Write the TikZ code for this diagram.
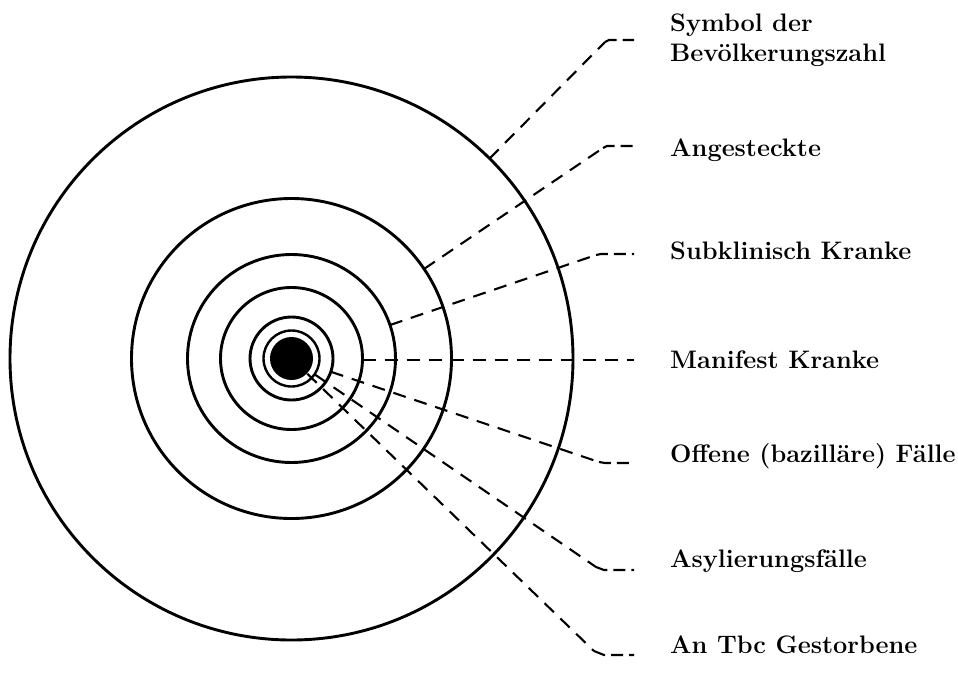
\documentclass[tikz,border=0pt]{standalone}
\usepackage{fontspec}
\usetikzlibrary{calc}
\begin{document}
\begin{tikzpicture}[x=1pt,y=-1pt,
  ring/.style={line width=2.9pt},
  thinring/.style={line width=2.4pt},
  leader/.style={line width=2.1pt, dash pattern=on 13pt off 9pt},
  tail/.style={line width=2.1pt, dash pattern=on 12pt off 6pt},
  lbl/.style={anchor=base west, inner sep=0pt, font=\fontsize{25.3}{29.5}\selectfont\bfseries, align=left}]
\useasboundingbox (0,0) rectangle (958,696);
\coordinate (c) at (291.5,358.5);
% rings
\draw[ring] (c) circle[radius=281.5];
\draw[ring] (c) circle[radius=160];
\draw[ring] (c) circle[radius=104];
\draw[ring] (c) circle[radius=71];
\draw[ring] (c) circle[radius=41.5];
\draw[thinring] (c) circle[radius=28];
\fill (c) circle[radius=21.5];
% labels
\node[lbl] (l1) at (670,61) {Symbol der\\Bevölkerungszahl};
\node[lbl] (l2) at (670,156.7) {Angesteckte};
\node[lbl] (l3) at (670,259.3) {Subklinisch Kranke};
\node[lbl] (l4) at (670,368.3) {Manifest Kranke};
\node[lbl] (l5) at (670,462.7) {Offene (bazilläre) Fälle};
\node[lbl] (l6) at (670,567.7) {Asylierungsfälle};
\node[lbl] (l7) at (670,653) {An Tbc Gestorbene};
% elbows and ends
\coordinate (e1) at (605,42);   \coordinate (h1) at (609,40);  \coordinate (t1) at (634,40);
\coordinate (e2) at (603,148);  \coordinate (h2) at (607,146); \coordinate (t2) at (634,146);
\coordinate (e3) at (596,255);  \coordinate (h3) at (601,254); \coordinate (t3) at (634,254);
\coordinate (s4) at (362.5,360); \coordinate (t4) at (634,360);
\coordinate (e5) at (599,462);  \coordinate (h5) at (605,463); \coordinate (t5) at (634,463);
\coordinate (e6) at (596,567);  \coordinate (h6) at (604,570); \coordinate (t6) at (634,570);
\coordinate (e7) at (594,651);  \coordinate (h7) at (604,655); \coordinate (t7) at (634,655);
% leaders
\draw[leader] ($(c)!281.5pt!(e1)$) -- (e1);
\draw[tail] (e1) -- (h1) -- (t1);
\draw[leader] ($(c)!160pt!(e2)$) -- (e2);
\draw[tail] (e2) -- (h2) -- (t2);
\draw[leader] ($(c)!104pt!(e3)$) -- (e3);
\draw[tail] (e3) -- (h3) -- (t3);
\draw[leader] (s4) -- (t4);
\draw[leader] ($(c)!41.5pt!(e5)$) -- (e5);
\draw[tail] (e5) -- (h5) -- (t5);
\draw[leader] ($(c)!29pt!(e6)$) -- (e6);
\draw[tail] (e6) -- (h6) -- (t6);
\draw[leader] ($(c)!22pt!(e7)$) -- (e7);
\draw[tail] (e7) -- (h7) -- (t7);
\end{tikzpicture}
\end{document}
